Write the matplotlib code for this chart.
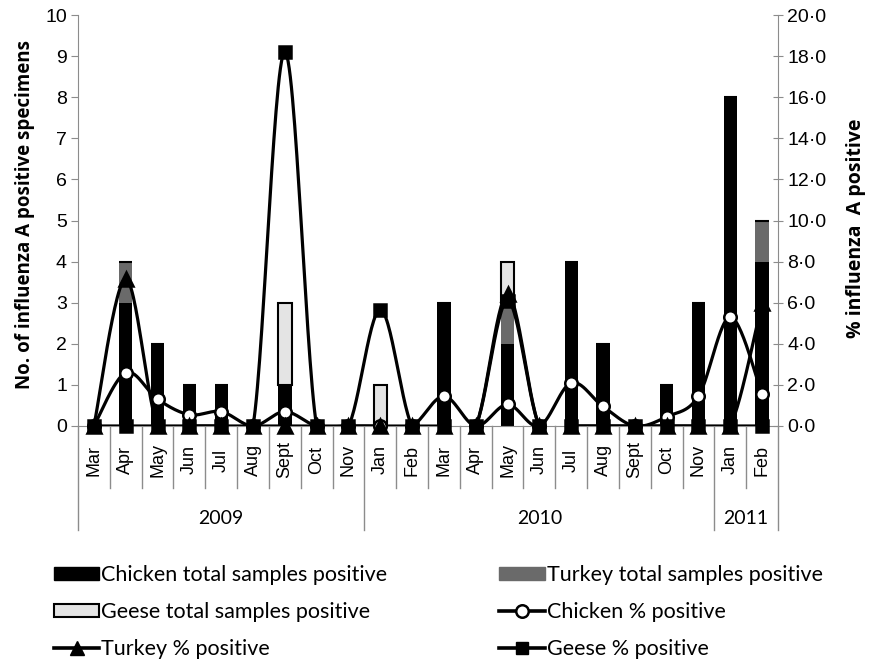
import numpy as np
import matplotlib
matplotlib.use('Agg')
import matplotlib.pyplot as plt
from matplotlib.patches import Patch
from matplotlib.lines import Line2D

months = ['Mar', 'Apr', 'May', 'Jun', 'Jul', 'Aug', 'Sept', 'Oct', 'Nov',
          'Jan', 'Feb', 'Mar', 'Apr', 'May', 'Jun', 'Jul', 'Aug', 'Sept', 'Oct', 'Nov',
          'Jan', 'Feb']
years = ['2009', '2010', '2011']
year_counts = [9, 11, 2]

chicken_total = [0, 3, 2, 1, 1, 0, 1, 0, 0, 0, 0, 3, 0, 2, 0, 4, 2, 0, 1, 3, 8, 4]
turkey_total = [0, 1, 0, 0, 0, 0, 0, 0, 0, 0, 0, 0, 0, 1, 0, 0, 0, 0, 0, 0, 0, 1]
geese_total = [0, 0, 0, 0, 0, 0, 2, 0, 0, 1, 0, 0, 0, 1, 0, 0, 0, 0, 0, 0, 0, 0]

chicken_pct = [0, 2.6, 1.3, 0.55, 0.7, 0, 0.7, 0, 0, 0, 0, 1.45, 0, 1.05, 0, 2.1,
               0.95, 0, 0.45, 1.45, 5.3, 1.55]
turkey_pct = [0, 7.15, 0, 0, 0, 0, 0, 0, 0, 0, 0, 0, 0, 6.4, 0, 0, 0, 0, 0, 0, 0, 6.0]
geese_pct = [0, 0, 0, 0, 0, 0, 18.2, 0, 0, 5.65, 0, 0, 0, 6.1, 0, 0, 0, 0, 0, 0, 0, 0]

left_ticks = list(range(0, 11))
right_ticks = [0, 2, 4, 6, 8, 10, 12, 14, 16, 18, 20]


def smooth(y, n=30):
    x = np.arange(len(y), dtype=float)
    P = np.column_stack([x, np.asarray(y, float)])
    out = []
    for i in range(len(P) - 1):
        p0 = P[i - 1] if i > 0 else P[i]
        p1, p2 = P[i], P[i + 1]
        p3 = P[i + 2] if i + 2 < len(P) else P[i + 1]
        c1 = p1 + (p2 - p0) / 6.0
        c2 = p2 - (p3 - p1) / 6.0
        t = np.linspace(0, 1, n)[:, None]
        seg = (1 - t) ** 3 * p1 + 3 * (1 - t) ** 2 * t * c1 + 3 * (1 - t) * t ** 2 * c2 + t ** 3 * p2
        out.append(seg if i == 0 else seg[1:])
    return np.vstack(out)


W, H = 881, 659
fig = plt.figure(figsize=(W / 100, H / 100), dpi=100)
L, R, B, T = 78, 778, 426, 15
ax = fig.add_axes([L / W, 1 - B / H, (R - L) / W, (B - T) / H])
ax2 = ax.twinx()

x = np.arange(len(months))
bw = 0.42
ch = np.array(chicken_total, float)
tu = np.array(turkey_total, float)
ge = np.array(geese_total, float)
ax.bar(x, ch, bw, color='black', zorder=2)
ax.bar(x, tu, bw, bottom=ch, color='#6a6a6a', zorder=2)
ax.bar(x, ge, bw, bottom=ch + tu, color='#e4e4e4', edgecolor='black', linewidth=1.5, zorder=2)

ax.set_xlim(-0.5, len(months) - 0.5)
ax.set_ylim(0, 10)
ax2.set_ylim(0, 20)
ax.set_xticks([])

grey = '#8c8c8c'
for a in (ax, ax2):
    a.spines['top'].set_visible(False)
    for s in ('left', 'right', 'bottom'):
        a.spines[s].set_color(grey)
ax.spines['right'].set_visible(False)
ax2.spines['left'].set_visible(False)
ax2.spines['bottom'].set_visible(False)

tfont = 'Liberation Sans'
ax.set_yticks(left_ticks)
ax.set_yticklabels([str(v) for v in left_ticks], fontsize=14, family=tfont)
ax.tick_params(axis='y', direction='out', length=5, color=grey, pad=3)
ax2.set_yticks(right_ticks)
ax2.set_yticklabels([f'{v:.1f}'.replace('.', '·') for v in right_ticks], fontsize=14, family=tfont)
ax2.tick_params(axis='y', direction='inout', length=7, color=grey, pad=3)

ax.set_ylabel('No. of influenza A positive specimens', fontsize=13.5, fontweight='bold',
              family='Open Sans')
ax.yaxis.set_label_coords((35 - L) / (R - L), (B - 215) / (B - T))
ax2.set_ylabel('% influenza  A positive', fontsize=14, fontweight='bold',
               family='Open Sans', rotation=90)
ax2.yaxis.set_label_coords((846 - L) / (R - L), (B - 228) / (B - T))

# lines
for vals, mk, mfc, ms in [(chicken_pct, 'o', 'white', 9),
                          (turkey_pct, '^', 'black', 10),
                          (geese_pct, 's', 'black', 8)]:
    sm = smooth(vals)
    ax2.plot(sm[:, 0], sm[:, 1], color='black', lw=2.3, zorder=3, solid_capstyle='round')
    ax2.plot(x, vals, ls='none', marker=mk, mfc=mfc, mec='black', mew=1.8, ms=ms,
             clip_on=False, zorder=4)

# multi-level category axis
tr = ax.get_xaxis_transform()
ax_h = B - T
short = -(488 - B) / ax_h
long_ = -(530 - B) / ax_h
month_y = -(460 - B) / ax_h
year_y = -(519 - B) / ax_h
bounds = np.cumsum([0] + year_counts) - 0.5
for i in range(len(months) + 1):
    xb = i - 0.5
    yb = long_ if np.any(np.isclose(bounds, xb)) else short
    ax.plot([xb, xb], [0, yb], transform=tr, color=grey, lw=1.0, clip_on=False)
for i, m in enumerate(months):
    ax.text(i, month_y, m, transform=tr, rotation=90, ha='center', va='center',
            fontsize=13, family=tfont)
for k, yr in enumerate(years):
    xc = (bounds[k] + bounds[k + 1]) / 2
    ax.text(xc, year_y, yr, transform=tr, ha='center', va='center', fontsize=14, family='Lato')

handles = [
    Patch(facecolor='black', edgecolor='black'),
    Patch(facecolor='#e4e4e4', edgecolor='black', linewidth=1.5),
    Line2D([], [], color='black', lw=2.6, marker='^', ms=10, mfc='black'),
    Patch(facecolor='#6a6a6a', edgecolor='#6a6a6a'),
    Line2D([], [], color='black', lw=2.6, marker='o', ms=9, mfc='white', mew=1.8),
    Line2D([], [], color='black', lw=2.6, marker='s', ms=8, mfc='black'),
]
labels = ['Chicken total samples positive', 'Geese total samples positive', 'Turkey % positive',
          'Turkey total samples positive', 'Chicken % positive', 'Geese % positive']
fig.legend(handles, labels, ncol=2, loc='upper left', bbox_to_anchor=(54 / W, 1 - 565 / H),
           frameon=False, prop={'family': 'Lato', 'size': 15.5}, handlelength=2.1,
           handleheight=0.6, handletextpad=0.1, labelspacing=0.8, columnspacing=5.2,
           borderpad=0, borderaxespad=0)

fig.savefig('out.png', dpi=100)
